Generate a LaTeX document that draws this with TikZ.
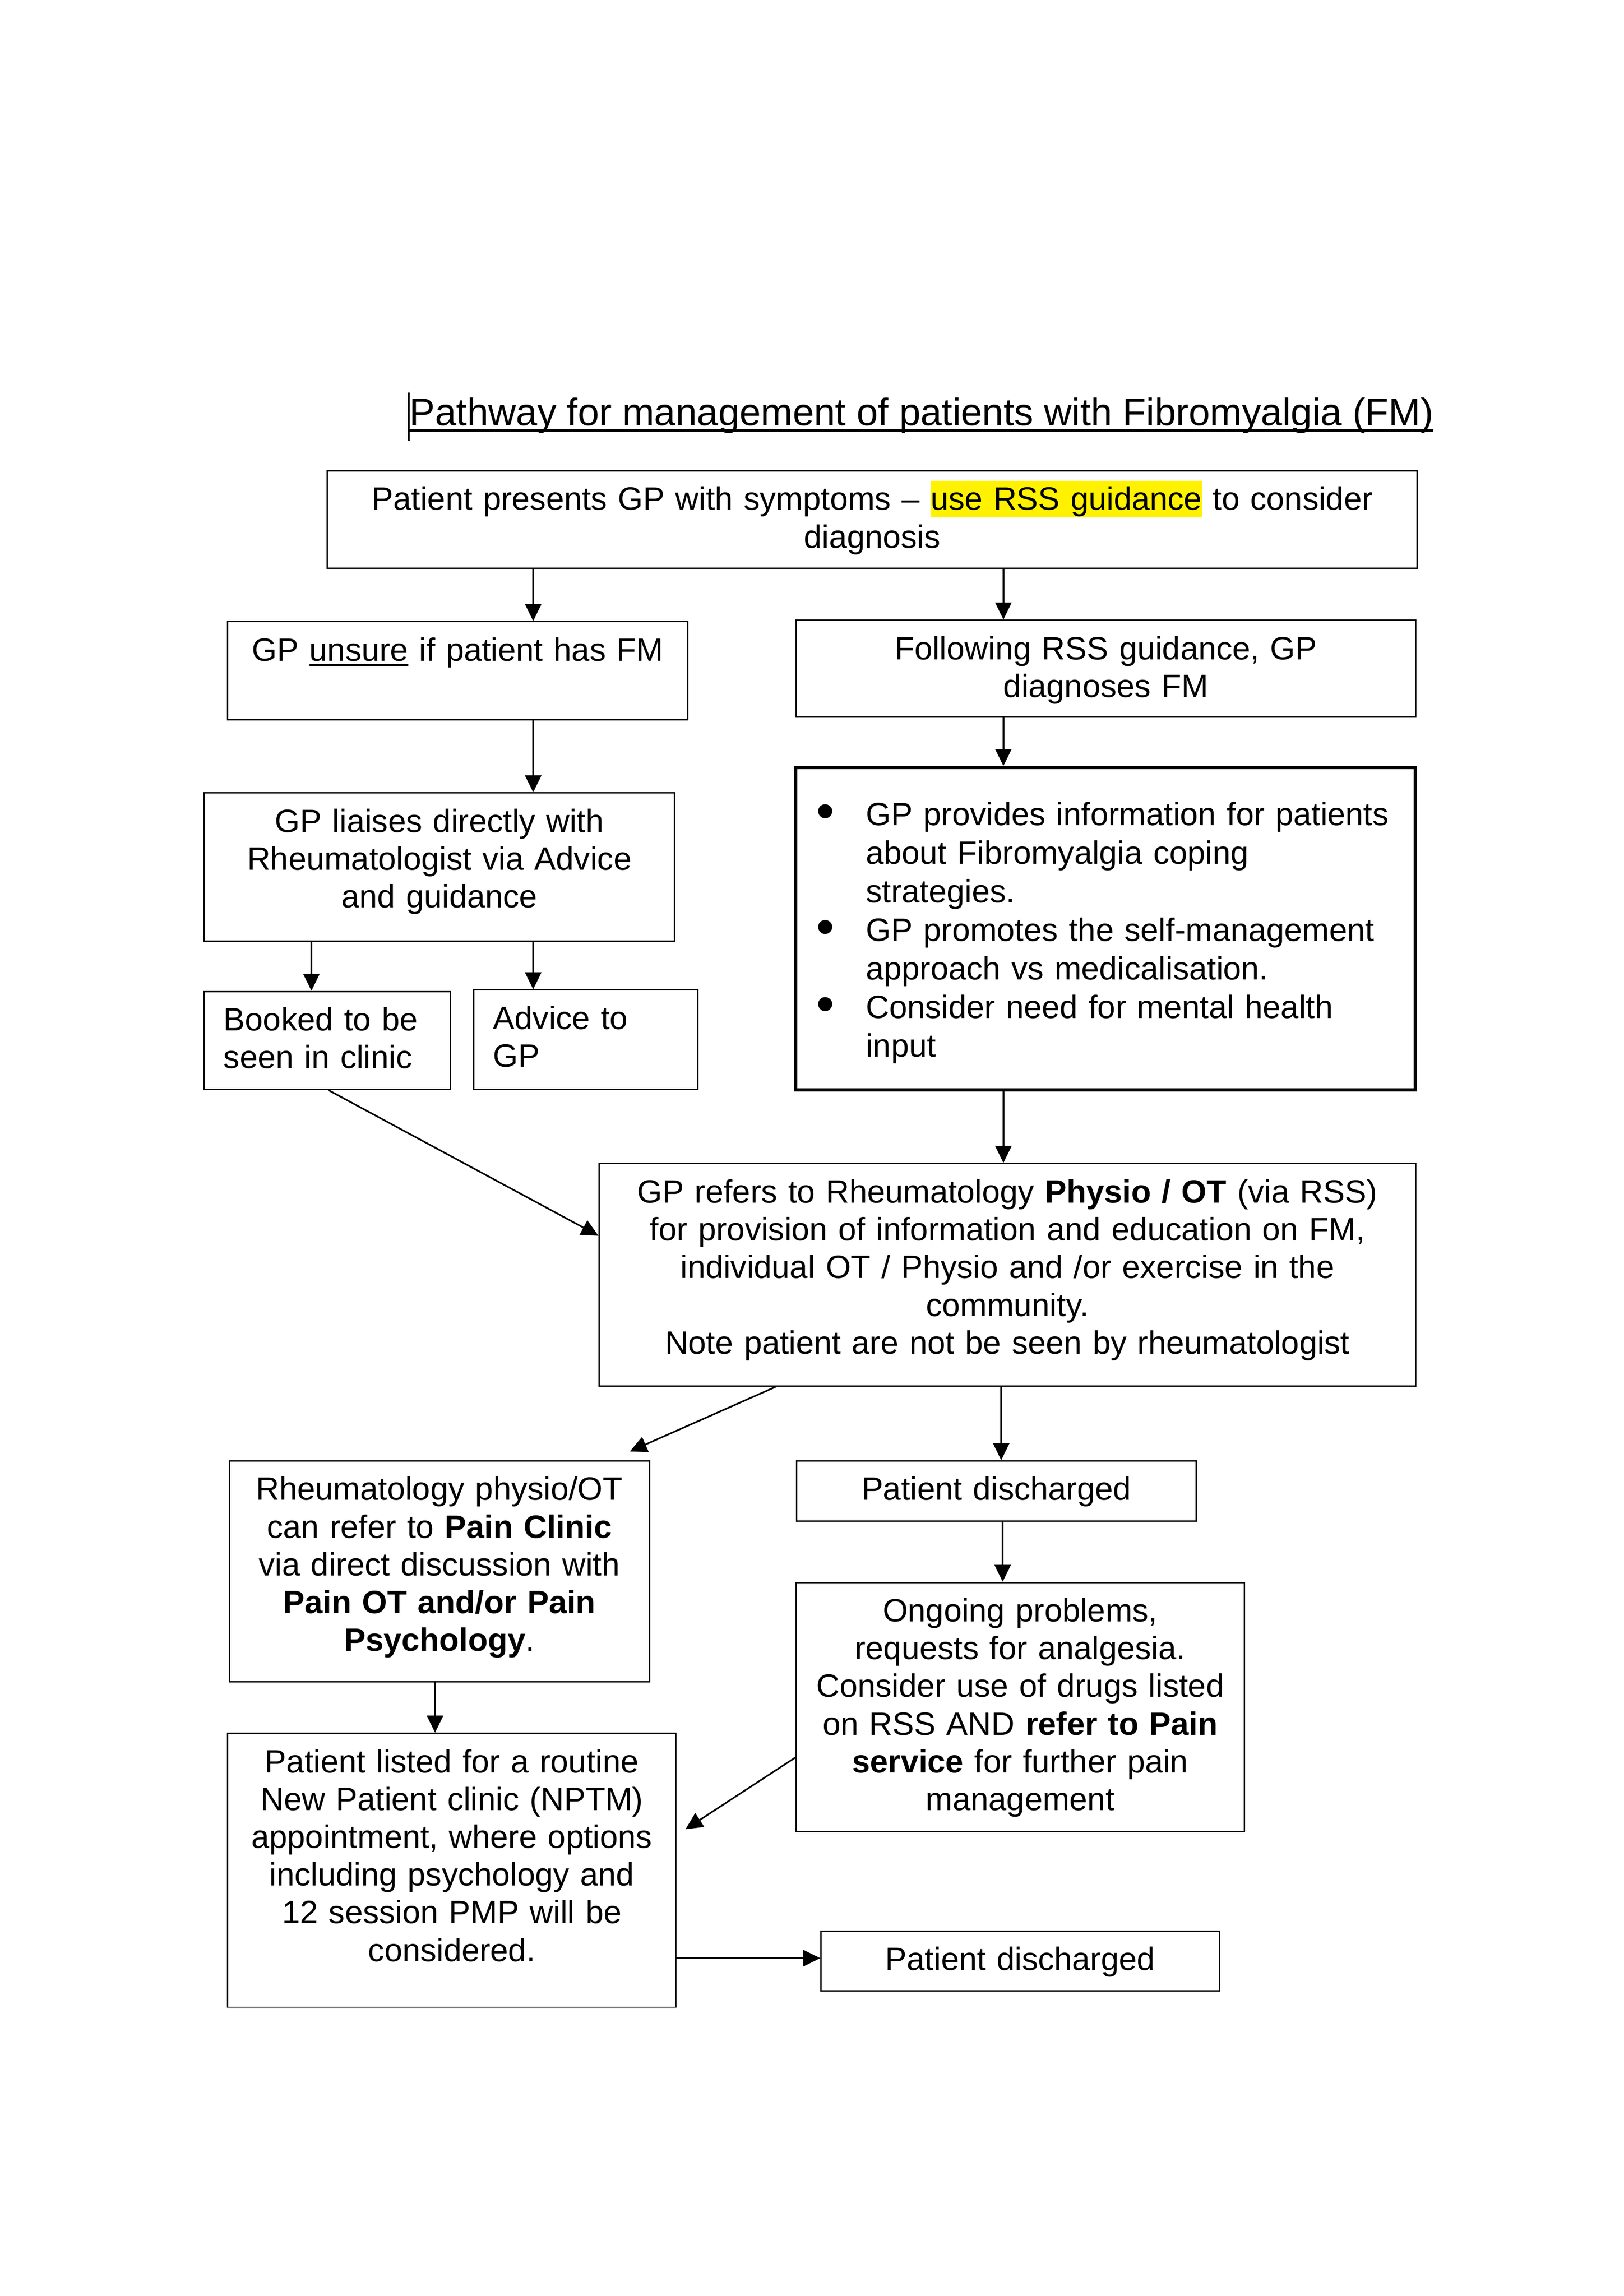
\documentclass[tikz,border=0pt]{standalone}
\usepackage{fontspec}
\setmainfont{Liberation Sans}
\usepackage{graphicx}
\usetikzlibrary{arrows.meta,calc}

\newsavebox\ulbox
\newcommand{\ulin}[1]{\sbox\ulbox{#1}\rlap{\rule[-0.17em]{\wd\ulbox}{0.075em}}\usebox\ulbox}
\newcommand{\hlite}[1]{{\setlength{\fboxsep}{0pt}\colorbox{yellow}{\rule[-0.212em]{0pt}{1.117em}#1}}}
\newcommand{\bdot}{\makebox[0.81cm][l]{\hspace{0.17cm}\raisebox{-1.2pt}{\scalebox{1.6}{\textbullet}}}}
\newcommand{\bskip}{\hspace*{0.81cm}}

\begin{document}
\begin{tikzpicture}[x=0.018945cm,y=-0.018945cm,
  box/.style 2 args={draw,line width=0.5pt,anchor=north west,inner xsep=0.1cm,inner ysep=0pt,
    align=center,text width={#1*0.018945cm-0.2cm},text height=0.508cm,
    text depth={#2*0.018945cm-0.508cm},font=\fontsize{11.9}{13.9}\selectfont},
  lbox/.style 2 args={box={#1}{#2},align=left,inner xsep=0.25cm,text width={#1*0.018945cm-0.5cm}},
  arr/.style={-{Triangle[length=0.22cm,width=0.21cm]},line width=0.6pt}]
\useasboundingbox (0,0) rectangle (1108.5,1567.7);

% title
\node[anchor=base west,inner sep=0pt,font=\fontsize{14.1}{16}\selectfont] (head) at (278,290.5)
  {\rule[-5.6pt]{0.7pt}{17.7pt}\ulin{Pathway for management of patients with Fibromyalgia (FM)}};

% boxes
\node[box={744}{66.5}] (start) at (223,321)
  {Patient presents GP with symptoms – \hlite{use RSS guidance} to consider\\diagnosis};
\node[box={314}{67}] (unsure) at (155,424) {GP \ulin{unsure} if patient has FM};
\node[box={423}{66}] (diag) at (543,423) {Following RSS guidance, GP\\diagnoses FM};
\node[box={321}{101}] (liaise) at (139,541)
  {GP liaises directly with\\Rheumatologist via Advice\\and guidance};
\node[box={423}{220},align=left,line width=1.2pt,text height=0.75cm,
  text depth={220*0.018945cm-0.75cm},font=\fontsize{11.9}{14.2}\selectfont] (info) at (542,523)
  {\bdot GP provides information for patients\\
   \bskip about Fibromyalgia coping\\
   \bskip strategies.\\
   \bdot GP promotes the self-management\\
   \bskip approach vs medicalisation.\\
   \bdot Consider need for mental health\\
   \bskip input};
\node[lbox={168}{67}] (booked) at (139,676.5) {Booked to be\\seen in clinic};
\node[lbox={153}{68}] (advice) at (323,675.5) {Advice to\\GP};
\node[box={557.5}{152}] (refer) at (408.5,794)
  {GP refers to Rheumatology \textbf{Physio / OT} (via RSS)\\
   for provision of information and education on FM,\\
   individual OT / Physio and /or exercise in the\\
   community.\\
   Note patient are not be seen by rheumatologist};
\node[box={272.5}{41}] (disch) at (543.5,997) {Patient discharged};
\node[box={287}{151}] (painref) at (156,997)
  {Rheumatology physio/OT\\
   can refer to \textbf{Pain Clinic}\\
   via direct discussion with\\
   \textbf{Pain OT and/or Pain}\\
   \textbf{Psychology}.};
\node[box={306}{170}] (ongoing) at (543,1080)
  {Ongoing problems,\\
   requests for analgesia.\\
   Consider use of drugs listed\\
   on RSS AND \textbf{refer to Pain}\\
   \textbf{service} for further pain\\
   management};
\node[box={306}{187}] (listed) at (155,1183)
  {Patient listed for a routine\\
   New Patient clinic (NPTM)\\
   appointment, where options\\
   including psychology and\\
   12 session PMP will be\\
   considered.};
\node[box={272}{41}] (dischb) at (560,1318) {Patient discharged};

\coordinate (tipa) at (430,991);
\coordinate (tipb) at (468,1249);

% connectors
\draw[arr] (start.south -| 364,0) -- (unsure.north -| 364,0);
\draw[arr] (start.south -| 685,0) -- (diag.north -| 685,0);
\draw[arr] (unsure.south -| 364,0) -- (liaise.north -| 364,0);
\draw[arr] (diag.south -| 685,0) -- (info.north -| 685,0);
\draw[arr] (liaise.south -| 212.6,0) -- (booked.north -| 212.6,0);
\draw[arr] (liaise.south -| 364,0) -- (advice.north -| 364,0);
\draw[arr] (info.south -| 685,0) -- (refer.north -| 685,0);
\draw[arr] (booked.south -| 224.4,0) -- (refer.west |- 0,843.7);
\draw[arr] (refer.south -| 529.5,0) -- (tipa);
\draw[arr] (refer.south -| 683.5,0) -- (disch.north -| 683.5,0);
\draw[arr] (disch.south -| 684.5,0) -- (ongoing.north -| 684.5,0);
\draw[arr] (painref.south -| 297,0) -- (listed.north -| 297,0);
\draw[arr] (ongoing.west |- 0,1200) -- (tipb);
\draw[arr] (listed.east |- 0,1337) -- (dischb.west |- 0,1337);

\end{tikzpicture}
\end{document}
